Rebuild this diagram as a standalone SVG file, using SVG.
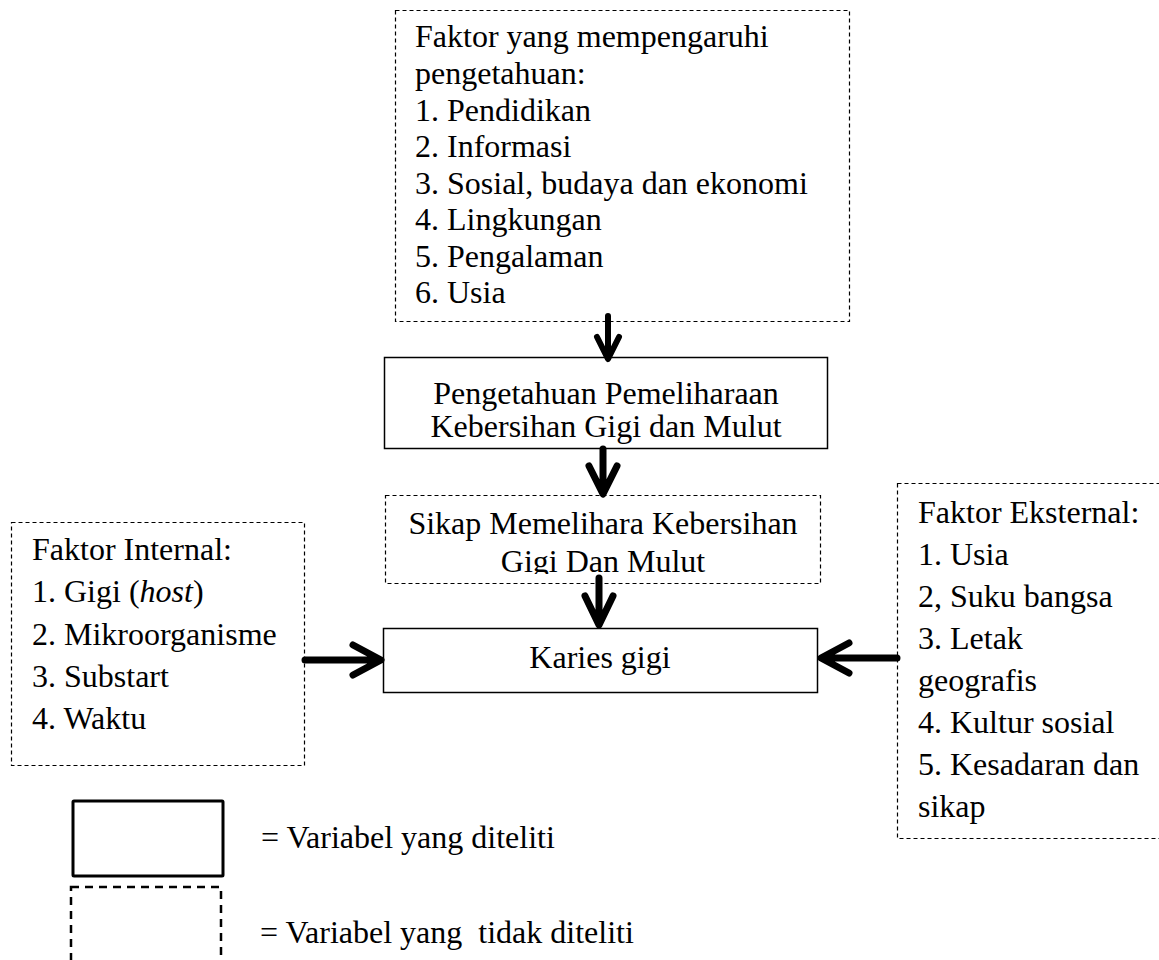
<svg xmlns="http://www.w3.org/2000/svg" width="1159" height="960" viewBox="0 0 1159 960">
<style>
text{font-family:"Liberation Serif","Times New Roman",serif;font-size:32px;fill:#000}
.dash{fill:#fff;stroke:#000;stroke-width:1.2;stroke-dasharray:4 3}
.solid{fill:#fff;stroke:#000;stroke-width:1.5}
.arr{fill:none;stroke:#000;stroke-linecap:round;stroke-linejoin:round}
.c{text-anchor:middle}
</style>
<defs>
<clipPath id="clipSikap"><rect x="386" y="496" width="434" height="78"/></clipPath>
</defs>
<rect width="1159" height="960" fill="#fff"/>

<g id="faktor-pengetahuan">
<rect class="dash" x="395.5" y="10.5" width="454" height="311"/>
<text x="415" y="47">Faktor yang mempengaruhi</text>
<text x="415" y="84">pengetahuan:</text>
<text x="415" y="121">1. Pendidikan</text>
<text x="415" y="157">2. Informasi</text>
<text x="415" y="194">3. Sosial, budaya dan ekonomi</text>
<text x="415" y="230">4. Lingkungan</text>
<text x="415" y="267">5. Pengalaman</text>
<text x="415" y="303">6. Usia</text>
</g>

<g id="pengetahuan">
<rect class="solid" x="384.5" y="357.5" width="443" height="91"/>
<text class="c" x="606" y="404">Pengetahuan Pemeliharaan</text>
<text class="c" x="606" y="437">Kebersihan Gigi dan Mulut</text>
</g>

<g id="sikap">
<rect class="dash" x="385.5" y="495.5" width="435" height="88"/>
<g clip-path="url(#clipSikap)">
<text class="c" x="603" y="534">Sikap Memelihara Kebersihan</text>
<text class="c" x="603" y="572">Gigi Dan Mulut</text>
</g>
</g>

<g id="karies">
<rect class="solid" x="383.5" y="628.5" width="434" height="64"/>
<text class="c" x="600" y="668">Karies gigi</text>
</g>

<g id="faktor-internal">
<rect class="dash" x="11.5" y="522.5" width="293" height="243"/>
<text x="32" y="560">Faktor Internal:</text>
<text x="32" y="602">1. Gigi (<tspan font-style="italic">host</tspan>)</text>
<text x="32" y="645">2. Mikroorganisme</text>
<text x="32" y="687">3. Substart</text>
<text x="32" y="729">4. Waktu</text>
</g>

<g id="faktor-eksternal">
<rect class="dash" x="897.5" y="483.5" width="270" height="355"/>
<text x="918" y="523">Faktor Eksternal:</text>
<text x="918" y="565">1. Usia</text>
<text x="918" y="607">2, Suku bangsa</text>
<text x="918" y="649">3. Letak</text>
<text x="918" y="691">geografis</text>
<text x="918" y="733">4. Kultur sosial</text>
<text x="918" y="775">5. Kesadaran dan</text>
<text x="918" y="817">sikap</text>
</g>

<g id="connectors">
<path class="arr" stroke-width="6" d="M608 316 V358 M597 337 L608 359 L619 337"/>
<path class="arr" stroke-width="7" d="M603 449 V493 M589 466 L603 494 L617 466"/>
<path class="arr" stroke-width="7" d="M599 578 V624 M585 596 L599 625 L613 596"/>
<path class="arr" stroke-width="7" d="M305 660 H380 M353 645 L381 660 L353 675"/>
<path class="arr" stroke-width="7" d="M897 658 H822 M849 643 L821 658 L849 673"/>
</g>

<g id="legend">
<rect x="73" y="801" width="150" height="75" fill="none" stroke="#000" stroke-width="3" rx="1"/>
<text x="261" y="848">= Variabel yang diteliti</text>
<rect x="71" y="887" width="150" height="90" fill="none" stroke="#000" stroke-width="2.5" stroke-dasharray="8 6"/>
<text x="260" y="943" xml:space="preserve">= Variabel yang  tidak diteliti</text>
</g>
</svg>
